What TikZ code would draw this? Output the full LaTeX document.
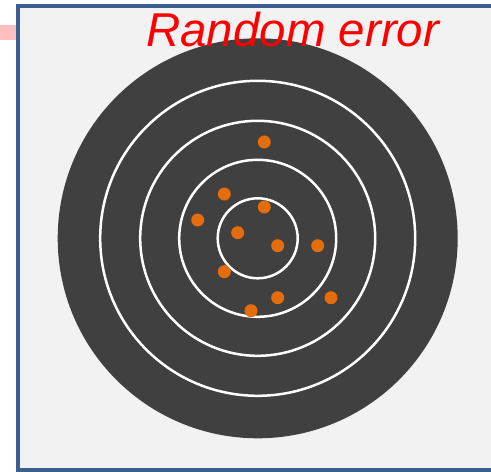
\documentclass[tikz,border=0pt]{standalone}
\usepackage{fontspec}
\setmainfont{Liberation Sans}
\definecolor{bgc}{HTML}{F2F2F2}
\definecolor{framec}{HTML}{3B5F8F}
\definecolor{darkc}{HTML}{404040}
\definecolor{dotc}{HTML}{E46C0A}
\definecolor{pinkc}{HTML}{FFBFBF}
\tikzset{
  hit/.style={circle, fill=dotc, inner sep=0pt, minimum size=13pt},
  ring/.style={draw=white, line width=2.5pt},
}
\begin{document}
\begin{tikzpicture}[x=1pt,y=-1pt]
\useasboundingbox (0,0) rectangle (491,472);
\fill[pinkc] (0,25) rectangle (16,40);
\fill[bgc] (18,5.5) rectangle (495,469.5);
\draw[framec, line width=4pt] (495,5.5) -- (18,5.5) -- (18,469.5) -- (495,469.5);
\fill[darkc] (257.7,238.3) circle (200);
\foreach \r in {40,78.5,117.5,157.5} \draw[ring] (257.7,238.3) circle (\r);
\node (d1) [hit] at (264.3,142) {};
\node (d2) [hit] at (224.3,194) {};
\node (d3) [hit] at (264.3,207) {};
\node (d4) [hit] at (197.7,220) {};
\node (d5) [hit] at (237.7,232.7) {};
\node (d6) [hit] at (277.7,245.7) {};
\node (d7) [hit] at (317.7,245.7) {};
\node (d8) [hit] at (224.3,271.7) {};
\node (d9) [hit] at (277.7,297.7) {};
\node (d10) [hit] at (331,297.7) {};
\node (d11) [hit] at (251,310.7) {};
\node (title) [anchor=base west, inner sep=0pt, text=red, font=\fontsize{47.5}{52}\selectfont\itshape] at (146,46) {Random error};
\end{tikzpicture}
\end{document}
